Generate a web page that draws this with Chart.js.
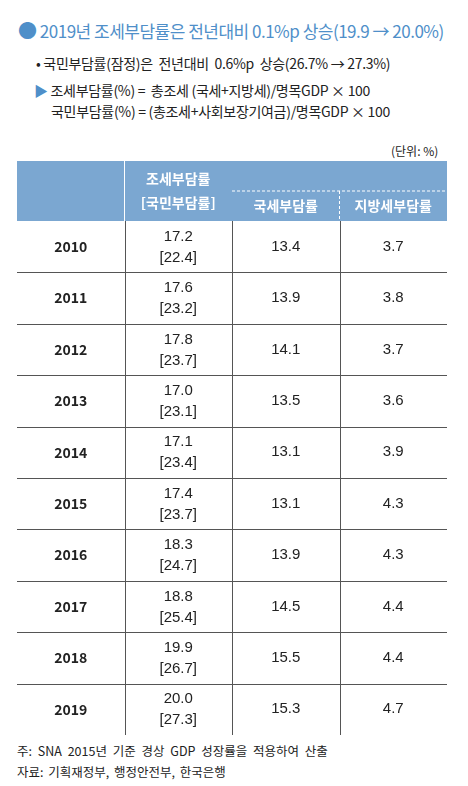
<!DOCTYPE html>
<html><head><meta charset="utf-8">
<script src="https://cdn.jsdelivr.net/npm/chart.js@4"></script>
<style>
body{margin:0;width:468px;height:786px;background:#fff;font-family:"Noto Sans CJK KR",sans-serif;color:#222;position:relative;overflow:hidden}
.t{position:absolute;white-space:nowrap}
</style></head><body>
<div class="t" style="left:18px;top:16px;font-size:17px;color:#4f8fc9;letter-spacing:-0.5px"><span style="font-size:19px">●</span> 2019년 조세부담률은 전년대비 0.1%p 상승(19.9 → 20.0%)</div>
<div class="t" style="left:36px;top:53px;font-size:14px;letter-spacing:-0.3px">• 국민부담률(잠정)은 &nbsp;전년대비 &nbsp;0.6%p &nbsp;상승(26.7% → 27.3%)</div>
<div class="t" style="left:34px;top:80px;font-size:14px;letter-spacing:-0.3px"><span style="color:#4f8fc9">▶</span> 조세부담률(%) = &nbsp;총조세 (국세+지방세)/명목GDP × 100</div>
<div class="t" style="left:51px;top:101px;font-size:14px;letter-spacing:-0.3px">국민부담률(%) = (총조세+사회보장기여금)/명목GDP × 100</div>
<div class="t" style="left:391px;top:142px;font-size:12px">(단위: %)</div>
<div style="position:absolute;left:17px;top:161px;width:430px;height:574px"><canvas id="c"></canvas></div>
<div class="t" style="left:17px;top:741px;font-size:12.5px;word-spacing:3px">주: SNA 2015년 기준 경상 GDP 성장률을 적용하여 산출</div>
<div class="t" style="left:17px;top:762px;font-size:12.5px;word-spacing:2px">자료: 기획재정부, 행정안전부, 한국은행</div>
<script>
const years = ["2010","2011","2012","2013","2014","2015","2016","2017","2018","2019"];
const taxBurden = [17.2,17.6,17.8,17.0,17.1,17.4,18.3,18.8,19.9,20.0];
const nationalBurden = [22.4,23.2,23.7,23.1,23.4,23.7,24.7,25.4,26.7,27.3];
const nationalTax = [13.4,13.9,14.1,13.5,13.1,13.1,13.9,14.5,15.5,15.3];
const localTax = [3.7,3.8,3.7,3.6,3.9,4.3,4.3,4.4,4.4,4.7];
const columns = ["연도","조세부담률","국세부담률","지방세부담률"];

const tablePlugin = {
  id: "table",
  afterDraw(chart) {
    const ctx = chart.ctx, x = chart.scales.x, y = chart.scales.y, a = chart.chartArea;
    const colW = (x.getPixelForValue(1) - x.getPixelForValue(0));
    const edge = i => x.getPixelForValue(i) - colW / 2;
    const rowH = y.getPixelForValue(1) - y.getPixelForValue(0);
    ctx.save();
    // header
    ctx.fillStyle = "#7ba7d1";
    ctx.fillRect(a.left, 0, a.right - a.left, a.top);
    ctx.strokeStyle = "#fff"; ctx.lineWidth = 1;
    ctx.beginPath(); ctx.moveTo(edge(1), 0); ctx.lineTo(edge(1), a.top); ctx.stroke();
    ctx.setLineDash([3, 2]);
    ctx.beginPath();
    ctx.moveTo(edge(2), a.top / 2); ctx.lineTo(a.right, a.top / 2);
    ctx.moveTo(edge(3), a.top / 2); ctx.lineTo(edge(3), a.top);
    ctx.stroke();
    ctx.setLineDash([]);
    ctx.fillStyle = "#fff"; ctx.textAlign = "center"; ctx.textBaseline = "middle";
    ctx.font = "bold 14px 'Noto Sans CJK KR'";
    ctx.fillText("조세부담률", x.getPixelForValue(1), 18);
    ctx.fillText("[국민부담률]", x.getPixelForValue(1), 42);
    ctx.fillText(columns[2], x.getPixelForValue(2), a.top * 0.75);
    ctx.fillText(columns[3], x.getPixelForValue(3), a.top * 0.75);
    // grid
    ctx.strokeStyle = "#555"; ctx.lineWidth = 1;
    ctx.beginPath();
    years.forEach((_, i) => {
      const yy = Math.round(y.getPixelForValue(i) + rowH / 2) + 0.5;
      ctx.moveTo(a.left, yy); ctx.lineTo(a.right, yy);
    });
    for (let i = 1; i < 4; i++) {
      const xx = Math.round(edge(i)) + 0.5;
      ctx.moveTo(xx, a.top); ctx.lineTo(xx, a.bottom);
    }
    ctx.stroke();
    // cells
    ctx.fillStyle = "#222";
    years.forEach((yr, i) => {
      const cy = y.getPixelForValue(i);
      ctx.font = "bold 14px 'Noto Sans CJK KR'";
      ctx.fillText(yr, x.getPixelForValue(0), cy);
      ctx.font = "15px 'Liberation Sans'";
      ctx.fillText(taxBurden[i].toFixed(1), x.getPixelForValue(1), cy - 10);
      ctx.fillText("[" + nationalBurden[i].toFixed(1) + "]", x.getPixelForValue(1), cy + 11);
      ctx.fillText(nationalTax[i].toFixed(1), x.getPixelForValue(2), cy);
      ctx.fillText(localTax[i].toFixed(1), x.getPixelForValue(3), cy);
    });
    ctx.restore();
  }
};

new Chart(document.getElementById("c"), {
  type: "bar",
  data: { labels: columns, datasets: [{ data: [] }] },
  options: {
    responsive: true, maintainAspectRatio: false, animation: false,
    layout: { padding: { top: 60, left: 0, right: 0, bottom: 0 } },
    plugins: { legend: { display: false }, tooltip: { enabled: false } },
    scales: {
      x: { type: "category", labels: columns, display: false, offset: true },
      y: { type: "category", labels: years, display: false, offset: true }
    }
  },
  plugins: [tablePlugin]
});
</script>
</body></html>
